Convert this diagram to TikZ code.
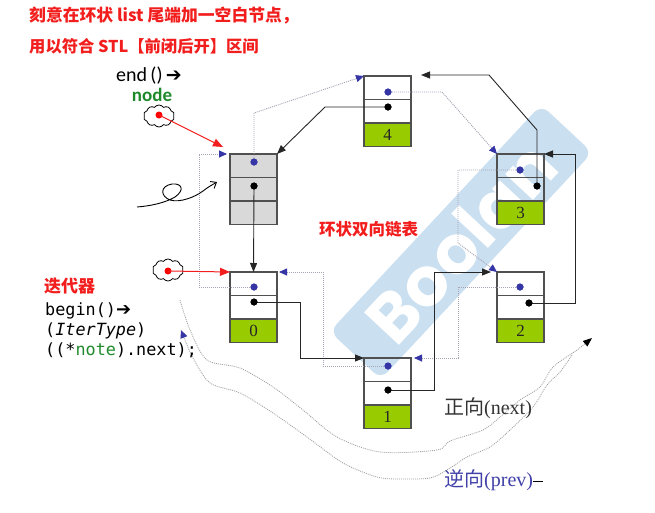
\documentclass[tikz,border=0pt]{standalone}
\usepackage{fontspec}
\setmainfont{Liberation Serif}
\newfontfamily\cjk{Noto Sans CJK SC}
\newfontfamily\calib{Carlito}
\newfontfamily\monof{DejaVu Sans Mono}
\newfontfamily\dejavu{DejaVu Sans}
\newfontfamily\wmfont{Poppins}
\usetikzlibrary{arrows.meta,shapes.symbols,calc}
\definecolor{cellgreen}{HTML}{99CC00}
\definecolor{cellgray}{HTML}{D9D9D9}
\definecolor{boxline}{HTML}{505050}
\definecolor{pblue}{HTML}{3535A5}
\definecolor{dotline}{HTML}{A5A5B5}
\definecolor{redt}{HTML}{F21E1E}
\definecolor{greent}{HTML}{1F8A2B}
\definecolor{wm}{HTML}{CADFF0}
\definecolor{wavyc}{HTML}{A0A0A0}
\definecolor{prevt}{HTML}{4040A8}
\newcommand\ListNode[6]{%
  \node[cell,fill=#4,anchor=north west] (#1-a) at (#2,#3) {};
  \node[cell,fill=#4,anchor=north] (#1-b) at (#1-a.south) {};
  \node[cell,fill=#5,anchor=north] (#1-c) at (#1-b.south) {#6};
}
\begin{document}
\begin{tikzpicture}[x=1pt,y=-1pt,
  cell/.style={draw=boxline,line width=1.1pt,minimum width=47pt,minimum height=23.5pt,inner sep=0pt,outer sep=0pt,font=\fontsize{17}{17}\selectfont,text=black!85},
  bdot/.style={circle,fill=pblue,inner sep=0pt,minimum size=7pt},
  kdot/.style={circle,fill=black,inner sep=0pt,minimum size=7pt},
  rdot/.style={circle,fill=red,inner sep=0pt,minimum size=7pt},
  nextline/.style={draw=black!85,line width=0.9pt,-{Triangle[length=9pt,width=7pt]}},
  prevline/.style={draw=dotline,line width=0.9pt,dash pattern=on 1pt off 1pt,-{Triangle[length=8pt,width=7pt,color=pblue]}},
  redline/.style={draw=redt,line width=1pt,-{Triangle[length=10pt,width=8pt]}},
  wavy/.style={draw=wavyc,line width=0.8pt,dash pattern=on 1pt off 1pt},
  cloudn/.style={cloud,cloud puffs=10,cloud puff arc=110,aspect=1.4,draw,line width=0.8pt,minimum width=31pt,minimum height=22pt,inner sep=0pt},
  lbl/.style={anchor=west,inner sep=0pt}
]
\useasboundingbox (0,0) rectangle (655,512);
% watermark band
\node[rotate=47,fill=wm,rounded corners=10pt,minimum width=310pt,minimum height=70pt,inner sep=0pt,text=white,font=\wmfont\bfseries\fontsize{68}{68}\selectfont] (wmk) at (461,242) {Boolan};

% wavy direction curves
\draw[wavy,-{Triangle[length=9pt,width=7pt,color=black]}] plot[smooth] coordinates {(180,300) (190,330) (207,360) (240,368) (273,387) (303,410) (337,437) (380,452) (437,450) (450,441) (483,430) (500,417) (520,400) (540,387) (553,367) (577,350) (592,338)};
\draw[wavy,-{Triangle[length=8pt,width=7pt,color=pblue]}] plot[smooth] coordinates {(572,355) (560,372) (547,385) (533,407) (510,430) (490,447) (467,457) (447,470) (430,478) (400,479) (377,477) (343,463) (307,437) (273,413) (240,393) (210,383) (193,358) (185,340) (181,330)};

% list nodes
\ListNode{E}{230}{154}{cellgray}{cellgray}{}
\ListNode{N0}{230}{272}{none}{cellgreen}{0}
\ListNode{N1}{364}{358}{none}{cellgreen}{1}
\ListNode{N2}{497}{272}{none}{cellgreen}{2}
\ListNode{N3}{497}{154}{none}{cellgreen}{3}
\ListNode{N4}{364}{76}{none}{cellgreen}{4}

% dots
\node[bdot] (E-p) at (254,162) {};
\node[kdot] (E-n) at (254,186) {};
\node[bdot] (N0-p) at (254,287) {};
\node[kdot] (N0-n) at (254,302) {};
\node[bdot] (N1-p) at (388,366) {};
\node[kdot] (N1-n) at (388,390) {};
\node[bdot] (N2-p) at (520,287) {};
\node[kdot] (N2-n) at (529,303) {};
\node[bdot] (N3-p) at (520,170) {};
\node[kdot] (N3-n) at (537,186) {};
\node[bdot] (N4-p) at (388,92) {};
\node[kdot] (N4-n) at (388,107) {};

% prev links
\draw[prevline] (E-p.center) -- (254,113) -- (N4-a.north west);
\draw[prevline] (N4-p.center) -- (442,92) -- (N3-a.north west);
\draw[prevline] (N3-p.center) -- (458,170) -- (458,243) -- (N2-a.north west);
\draw[prevline] (N2-p.center) -- (458,287) -- (458,358) -- ($(N1-a.north east)+(3,0)$);
\draw[prevline] (N1-p.center) -- (323,366) -- (323,272) -- ($(N0-a.north east)+(2,0)$);
\draw[prevline] (N0-p.center) -- (199,287) -- (199,154) -- ($(E-a.north west)+(-3,0)$);

% next links
\coordinate (N4in) at (421,75);
\draw[nextline] (E-n.center) -- (N0-a.north);
\draw[nextline] (N0-n.center) -- ++(46,0) |- (N1-a.north west);
\draw[nextline] (N1-n.center) -- ++(46,0) |- ($(N2-a.north west)+(-6,0)$);
\draw[nextline] (N2-n.center) -- ++(46,0) |- (N3-a.north east);
\draw[nextline] (N3-n.center) -- ++(0,-56) -- (489,75) -- (N4in);
\draw[nextline] (N4-n.center) -- (325,107) -- (E-a.north east);

% redraw dots on top
\foreach \d in {E-p,N0-p,N1-p,N2-p,N3-p,N4-p}{\fill[pblue] (\d.center) circle (3.5pt);}
\foreach \d in {E-n,N0-n,N1-n,N2-n,N3-n,N4-n}{\fill[black] (\d.center) circle (3.5pt);}

% iterators
\node[cloudn] (c1) at (159,116) {};
\node[rdot] (c1d) at (159,115) {};
\coordinate (endtip) at (223,147);
\draw[redline] (c1d.center) -- (endtip);
\node[cloudn] (c2) at (168,270) {};
\node[rdot] (c2d) at (168,271) {};
\draw[redline] (c2d.center) -- (N0-a.north west);

% curly arrow
\coordinate (curlS) at (137,207);
\coordinate (curlE) at (217,182);
\draw[line width=0.9pt,-{Straight Barb[length=5pt,width=8pt]}] (curlS) .. controls (150,206) and (165,203) .. (175,197) .. controls (185,190) and (182,183) .. (172,184) .. controls (160,186) and (160,196) .. (170,200) .. controls (180,203) and (195,197) .. (203,191) .. controls (208,187) and (212,185) .. (curlE);

% texts
\node[lbl,text=redt,font=\cjk\bfseries\fontsize{16.8}{18}\selectfont] (t1) at (29,15) {刻意在环状 list 尾端加一空白节点，};
\node[lbl,text=redt,font=\cjk\bfseries\fontsize{16.3}{18}\selectfont] (t2) at (29,46) {用以符合 STL【前闭后开】区间};
\node[lbl,font=\calib\fontsize{20}{22}\selectfont] (endt) at (116,76) {end\,()\,{\dejavu\fontsize{19}{19}\selectfont ➔}};
\node[font=\calib\bfseries\fontsize{19}{20}\selectfont,text=greent,inner sep=0pt] (nodet) at (152,95) {node};
\node[lbl,text=redt,font=\cjk\bfseries\fontsize{17}{19}\selectfont] (iter) at (44,286) {迭代器};
\node[anchor=base west,inner sep=0pt,font=\monof\fontsize{16.8}{20}\selectfont] (b1) at (45,315) {begin(){\dejavu\fontsize{18}{18}\selectfont ➔}};
\node[anchor=base west,inner sep=0pt,font=\monof\fontsize{16.8}{20}\selectfont] (b2) at (45,335) {({\itshape IterType})};
\node[anchor=base west,inner sep=0pt,font=\monof\fontsize{16.8}{20}\selectfont] (b3) at (45,355) {((*\textcolor{greent}{note}).next);};
\node[lbl,text=redt,font=\cjk\bfseries\fontsize{16.5}{18}\selectfont] (ring) at (319,229) {环状双向链表};
\node[lbl,text=black!80,font=\fontsize{20}{22}\selectfont] (fw) at (444,408) {{\cjk 正向}(next)};
\node[lbl,text=prevt,font=\fontsize{20}{22}\selectfont] (bw) at (444,480) {{\cjk 逆向}(prev)};
\coordinate (dashA) at (533,481);
\coordinate (dashB) at (543,481);
\draw[black,line width=0.8pt] (dashA) -- (dashB);
\end{tikzpicture}
\end{document}
